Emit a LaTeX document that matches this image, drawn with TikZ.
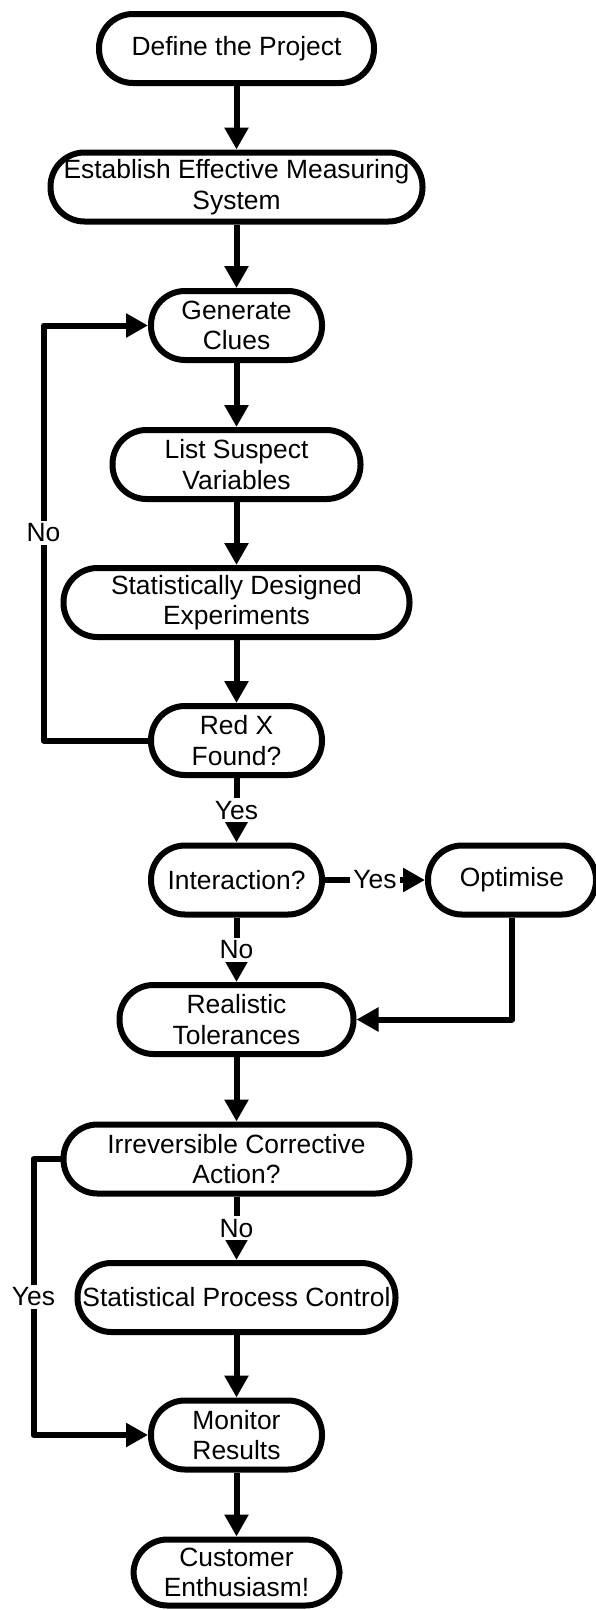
\documentclass[tikz,border=0pt]{standalone}
\usepackage{fontspec}
\setmainfont{Liberation Sans}
\usetikzlibrary{arrows.meta}

\begin{document}
\begin{tikzpicture}[x=1pt, y=-1pt,
    font=\fontsize{26.4}{30.4}\selectfont,
    stepbox/.style={rectangle, rounded corners=34pt, draw, line width=6pt,
        minimum height=69pt, inner sep=0pt, align=center},
    flow/.style={line width=6pt, line join=round, -{Triangle[length=22pt,width=23pt]}},
    lbl/.style={fill=white, inner sep=3pt}]
    \useasboundingbox (0,0) rectangle (595,1610);
    % Nodes
    \node[stepbox, minimum width=275pt] (def) at (236.5,48.5) {Define the Project};
    \node[stepbox, minimum width=372pt] (est) at (236.5,187) {Establish Effective Measuring\\System};
    \node[stepbox, minimum width=171pt] (gen) at (236.5,325.5) {Generate\\Clues};
    \node[stepbox, minimum width=248pt] (list) at (236.5,464.5) {List Suspect\\Variables};
    \node[stepbox, minimum width=346pt] (stat) at (236.5,602.5) {Statistically Designed\\Experiments};
    \node[stepbox, minimum width=171pt] (redx) at (236.5,740.5) {Red X\\Found?};
    \node[stepbox, minimum width=171pt] (inter) at (236.5,880) {Interaction?};
    \node[stepbox, minimum width=168pt] (opt) at (512,880) {Optimise};
    \node[stepbox, minimum width=234pt] (real) at (236.5,1019.5) {Realistic\\Tolerances};
    \node[stepbox, minimum width=346pt] (irr) at (236.5,1159) {Irreversible Corrective\\Action?};
    \node[stepbox, minimum width=318pt] (spc) at (236.5,1297.5) {Statistical Process Control};
    \node[stepbox, minimum width=171pt] (mon) at (236.5,1435) {Monitor\\Results};
    \node[stepbox, minimum width=206pt, minimum height=66pt] (cust) at (236.5,1572.5) {Customer\\Enthusiasm!};
    % Edges
    \draw[flow] (def) -- (est);
    \draw[flow] (est) -- (gen);
    \draw[flow] (gen) -- (list);
    \draw[flow] (list) -- (stat);
    \draw[flow] (stat) -- (redx);
    \draw[flow] (redx.west) -- ++(-104.5,0) |- node[lbl, pos=0.25] {No} (gen.west);
    \draw[flow] (redx) -- node[lbl] {Yes} (inter);
    \draw[flow] (inter) -- node[lbl] {Yes} (opt);
    \draw[flow] (inter) -- node[lbl] {No} (real);
    \draw[flow] (opt) |- (real);
    \draw[flow] (real) -- (irr);
    \draw[flow] (irr) -- node[lbl] {No} (spc);
    \draw[flow] (irr.west) -- ++(-27,0) |- node[lbl, pos=0.25] {Yes} (mon.west);
    \draw[flow] (spc) -- (mon);
    \draw[flow] (mon) -- (cust);
\end{tikzpicture}
\end{document}
